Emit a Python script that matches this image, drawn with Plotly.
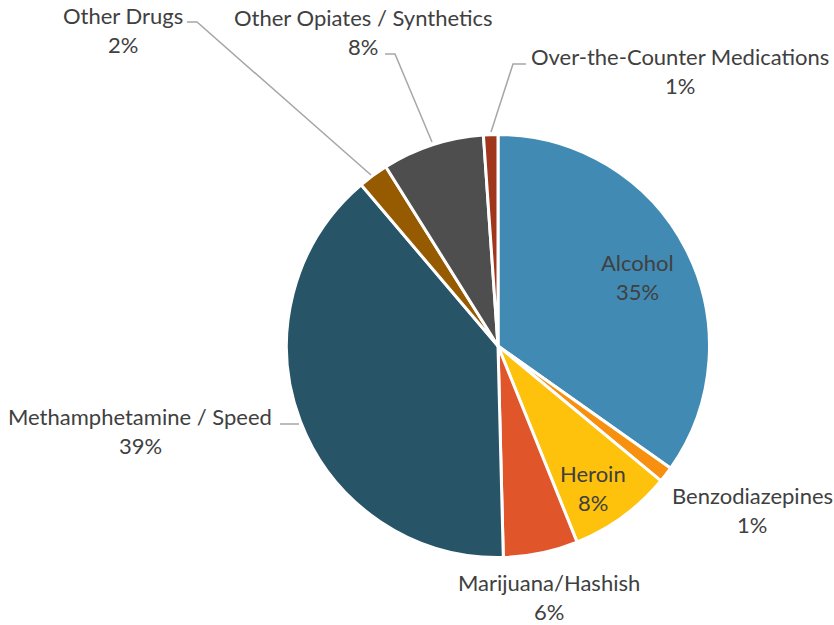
import plotly.graph_objects as go

W, H = 834, 625

labels = [
    'Alcohol', 'Benzodiazepines', 'Heroin', 'Marijuana/Hashish',
    'Methamphetamine / Speed', 'Other Drugs', 'Other Opiates / Synthetics',
    'Over-the-Counter Medications',
]
values = [34.8, 1.2, 7.9, 5.7, 39.2, 2.3, 7.8, 1.1]
colors = ['#418AB3', '#F7900E', '#FEC20C', '#E0562A',
          '#285468', '#965A00', '#4E4E4E', '#A0361B']

# label anchor (center of first text line), in px from top-left
label_pos = {
    'Alcohol': (637, 262),
    'Benzodiazepines': (752, 495),
    'Heroin': (593, 473),
    'Marijuana/Hashish': (549, 582),
    'Methamphetamine / Speed': (140, 416),
    'Other Drugs': (123, 15),
    'Other Opiates / Synthetics': (363, 17),
    'Over-the-Counter Medications': (680, 57),
}
# leader lines (px)
leaders = [
    [(187, 22), (197, 22), (371, 175)],
    [(385, 54), (395, 54), (432, 142)],
    [(526, 64), (513, 64), (491, 132)],
    [(280, 424), (299, 424)],
]

FONT = 'Lato'
TXT = '#404040'


def px(x, y):
    return x / W, 1 - y / H


total = sum(values)
annotations = []
for lab, val in zip(labels, values):
    x, y = label_pos[lab]
    pct = f'{round(100 * val / total)}%'
    for i, t in enumerate([lab, pct]):
        ax, ay = px(x, y + i * 29)
        annotations.append(dict(
            text=t, x=ax, y=ay, xref='paper', yref='paper',
            xanchor='center', yanchor='middle', showarrow=False,
            font=dict(family=FONT, size=22, color=TXT),
        ))

shapes = []
for pts in leaders:
    path = 'M ' + ' L '.join(f'{px(a, b)[0]} {px(a, b)[1]}' for a, b in pts)
    shapes.append(dict(type='path', path=path, xref='paper', yref='paper',
                       line=dict(color='#A6A6A6', width=1.5)))

cx, cy, r = 498, 346, 211.5
fig = go.Figure(go.Pie(
    labels=labels,
    values=values,
    sort=False,
    direction='clockwise',
    rotation=0,
    textinfo='none',
    marker=dict(colors=colors, line=dict(color='white', width=3)),
    domain=dict(x=[(cx - r) / W, (cx + r) / W],
                y=[1 - (cy + r) / H, 1 - (cy - r) / H]),
    showlegend=False,
))
fig.update_layout(
    width=W, height=H,
    margin=dict(l=0, r=0, t=0, b=0),
    paper_bgcolor='white',
    annotations=annotations,
    shapes=shapes,
)
fig.write_html('out.html', config={'displayModeBar': False},
               post_script="document.body.style.margin='0';")
